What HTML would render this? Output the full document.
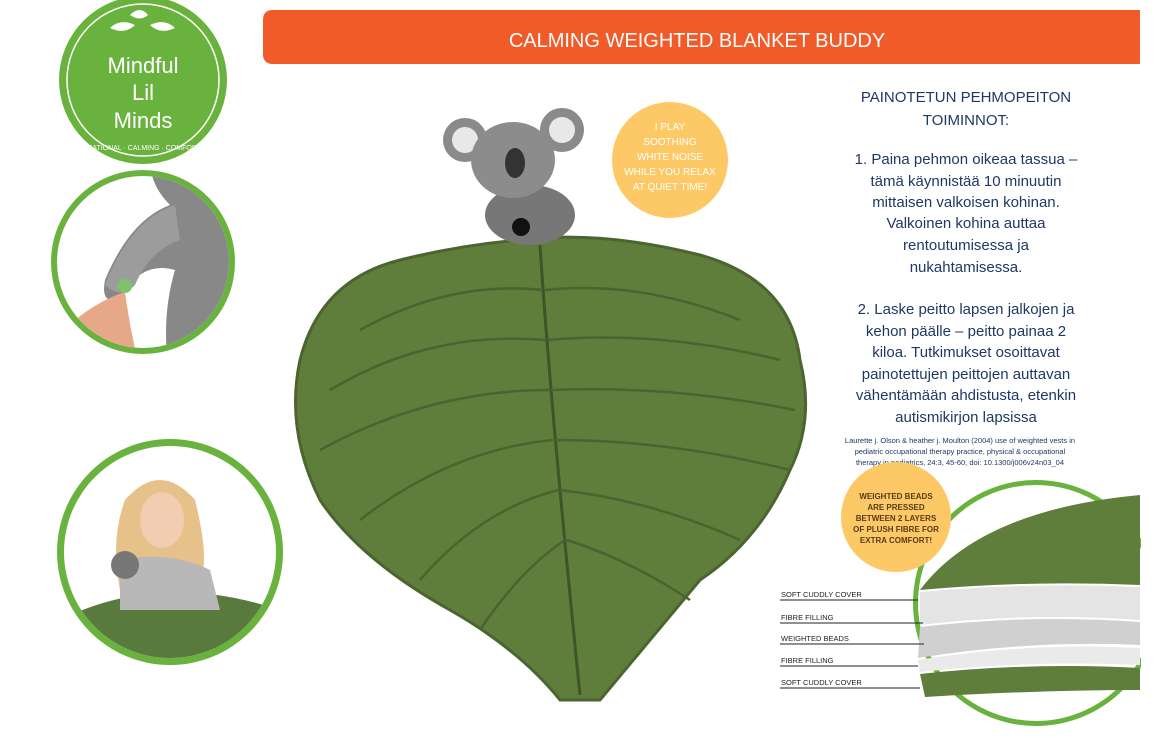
<!DOCTYPE html>
<html><head><meta charset="utf-8"><style>
html,body{margin:0;padding:0;background:#fff;}
svg{display:block}
text{font-family:"Liberation Sans",sans-serif}
</style></head><body>
<svg width="1158" height="738" viewBox="0 0 1158 738" xmlns="http://www.w3.org/2000/svg">
<defs>
<clipPath id="c2"><circle cx="143" cy="262" r="86"/></clipPath>
<clipPath id="c3"><circle cx="170" cy="552" r="106"/></clipPath>
<clipPath id="rc"><rect x="0" y="0" width="1141" height="738"/></clipPath>
</defs>
<!-- header bar -->
<path d="M273 10 H1140 V64 H273 Q263 64 263 54 V20 Q263 10 273 10Z" fill="#f15a29"/>
<text x="697" y="47" font-size="20" fill="#fff" text-anchor="middle">CALMING WEIGHTED BLANKET BUDDY</text>

<!-- circle 2 koala arm -->
<circle cx="143" cy="262" r="92" fill="#6ab23e"/>
<g clip-path="url(#c2)">
<rect x="40" y="160" width="210" height="210" fill="#fff"/>
<path d="M150 160 Q240 160 240 250 L240 380 L170 380 Q160 320 175 270 Q140 260 120 300 Q100 305 105 280 Q130 220 170 205 Q150 185 150 160Z" fill="#888"/>
<path d="M175 205 Q130 220 105 285 Q120 300 135 285 Q150 250 180 240Z" fill="#9c9c9c"/>
<circle cx="125" cy="286" r="7" fill="#7cc36b"/>
<path d="M75 320 Q100 300 125 292 Q130 330 140 370 L85 370 Q70 340 75 320Z" fill="#e7a88a"/>
</g>
<!-- logo -->
<circle cx="143" cy="80" r="84" fill="#6ab23e"/>
<circle cx="143" cy="80" r="76" fill="none" stroke="#fff" stroke-width="1.5"/>
<path d="M110 28 Q120 18 135 25 Q125 35 110 28Z M150 25 Q165 18 175 28 Q160 35 150 25Z M130 15 Q140 5 148 15 Q140 22 130 15Z" fill="#fff"/>
<text x="143" y="73" font-size="22" fill="#fff" text-anchor="middle">Mindful</text>
<text x="143" y="100" font-size="22" fill="#fff" text-anchor="middle">Lil</text>
<text x="143" y="128" font-size="22" fill="#fff" text-anchor="middle">Minds</text>
<text x="143" y="150" font-size="7" fill="#fff" text-anchor="middle">EDUCATIONAL · CALMING · COMFORTING</text>

<!-- circle 3 girl -->
<circle cx="170" cy="552" r="113" fill="#6ab23e"/>
<g clip-path="url(#c3)">
<rect x="50" y="440" width="240" height="230" fill="#fff"/>
<path d="M60 620 Q160 570 280 610 L280 670 L60 670Z" fill="#587a3c"/>
<path d="M125 500 Q160 460 195 500 Q210 560 200 580 L120 590 Q110 540 125 500Z" fill="#e6c18a"/>
<ellipse cx="162" cy="520" rx="22" ry="28" fill="#f2cdb2"/>
<path d="M120 560 Q170 550 210 570 L220 610 L120 610Z" fill="#b8b8b8"/>
<circle cx="125" cy="565" r="14" fill="#777"/>
</g>

<!-- leaf -->
<path d="M520 240 Q600 230 700 255 Q790 280 800 360 Q815 420 790 470 Q760 540 700 580 Q650 640 600 700 L560 700 Q520 650 450 610 Q360 560 320 500 Q285 430 300 360 Q320 280 400 260 Q460 245 520 240Z" fill="#5f7d3b" stroke="#4c6430" stroke-width="3"/>
<path d="M540 245 Q550 400 580 695" fill="none" stroke="#3f5428" stroke-width="3"/>
<g fill="none" stroke="#4a6330" stroke-width="2.5">
<path d="M543 290 Q450 280 360 330"/><path d="M546 340 Q430 330 330 390"/><path d="M549 390 Q430 390 320 450"/><path d="M553 440 Q450 450 360 520"/><path d="M558 490 Q480 510 420 580"/><path d="M565 540 Q520 570 480 630"/>
<path d="M545 290 Q640 280 740 320"/><path d="M548 340 Q660 330 780 360"/><path d="M551 390 Q670 385 795 410"/><path d="M555 440 Q670 440 790 470"/><path d="M560 490 Q650 500 740 540"/><path d="M567 540 Q630 560 690 600"/>
</g>

<!-- koala -->
<ellipse cx="530" cy="215" rx="45" ry="30" fill="#777"/>
<circle cx="465" cy="140" r="22" fill="#8a8a8a"/><circle cx="465" cy="140" r="13" fill="#e8e8e8"/>
<circle cx="562" cy="130" r="22" fill="#8a8a8a"/><circle cx="562" cy="130" r="13" fill="#e8e8e8"/>
<ellipse cx="513" cy="160" rx="42" ry="38" fill="#8c8c8c"/>
<ellipse cx="515" cy="163" rx="10" ry="15" fill="#333"/>
<circle cx="521" cy="227" r="9" fill="#111"/>

<!-- yellow bubble 1 -->
<circle cx="670" cy="160" r="58" fill="#fdc966"/>
<g font-size="10" fill="#fff" text-anchor="middle">
<text x="670" y="130">I PLAY</text><text x="670" y="145">SOOTHING</text><text x="670" y="160">WHITE NOISE</text><text x="670" y="175">WHILE YOU RELAX</text><text x="670" y="190">AT QUIET TIME!</text>
</g>

<!-- right text -->
<g font-size="15" fill="#1f3864" text-anchor="middle">
<text x="966" y="102">PAINOTETUN PEHMOPEITON</text>
<text x="966" y="125">TOIMINNOT:</text>
<text x="966" y="164">1. Paina pehmon oikeaa tassua –</text>
<text x="966" y="186">tämä käynnistää 10 minuutin</text>
<text x="966" y="207">mittaisen valkoisen kohinan.</text>
<text x="966" y="228">Valkoinen kohina auttaa</text>
<text x="966" y="250">rentoutumisessa ja</text>
<text x="966" y="272">nukahtamisessa.</text>
<text x="966" y="314">2. Laske peitto lapsen jalkojen ja</text>
<text x="966" y="336">kehon päälle – peitto painaa 2</text>
<text x="966" y="357">kiloa. Tutkimukset osoittavat</text>
<text x="966" y="379">painotettujen peittojen auttavan</text>
<text x="966" y="400">vähentämään ahdistusta, etenkin</text>
<text x="966" y="422">autismikirjon lapsissa</text>
</g>
<g font-size="7.5" fill="#1f3864" text-anchor="middle">
<text x="960" y="443">Laurette j. Olson &amp; heather j. Moulton (2004) use of weighted vests in</text>
<text x="960" y="454">pediatric occupational therapy practice, physical &amp; occupational</text>
<text x="960" y="465">therapy in pediatrics, 24:3, 45-60, doi: 10.1300/j006v24n03_04</text>
</g>

<!-- layers circle -->
<g clip-path="url(#rc)">
<circle cx="1036" cy="603" r="123" fill="#6ab23e"/>
<circle cx="1036" cy="603" r="118" fill="#fff"/>
<path d="M920 590 Q980 510 1140 495 L1140 585 Q1030 580 920 590Z" fill="#5f7d3b"/>
<path d="M920 592 Q1030 582 1140 587 L1140 620 Q1030 612 920 625Z" fill="#e4e4e4"/>
<path d="M920 627 Q1030 614 1140 622 L1140 645 Q1030 640 918 658Z" fill="#d0d0d0"/>
<path d="M918 660 Q1030 642 1140 648 L1140 665 Q1030 660 920 672Z" fill="#eaeaea"/>
<path d="M920 674 Q1030 662 1140 668 L1140 690 Q1040 690 925 697Z" fill="#5f7d3b"/>
</g>
<g stroke="#222" stroke-width="1"><line x1="780" y1="600" x2="918" y2="600"/><line x1="780" y1="623" x2="923" y2="623"/><line x1="780" y1="644" x2="924" y2="644"/><line x1="780" y1="666" x2="918" y2="666"/><line x1="780" y1="688" x2="920" y2="688"/></g>
<g font-size="7.5" fill="#222">
<text x="781" y="597">SOFT CUDDLY COVER</text><text x="781" y="620">FIBRE FILLING</text><text x="781" y="641">WEIGHTED BEADS</text><text x="781" y="663">FIBRE FILLING</text><text x="781" y="685">SOFT CUDDLY COVER</text>
</g>
<circle cx="896" cy="517" r="55" fill="#fdc966"/>
<g font-size="8" fill="#5a3a1a" text-anchor="middle" font-weight="bold">
<text x="896" y="499">WEIGHTED BEADS</text><text x="896" y="510">ARE PRESSED</text><text x="896" y="521">BETWEEN 2 LAYERS</text><text x="896" y="532">OF PLUSH FIBRE FOR</text><text x="896" y="543">EXTRA COMFORT!</text>
</g>
</svg>
</body></html>
